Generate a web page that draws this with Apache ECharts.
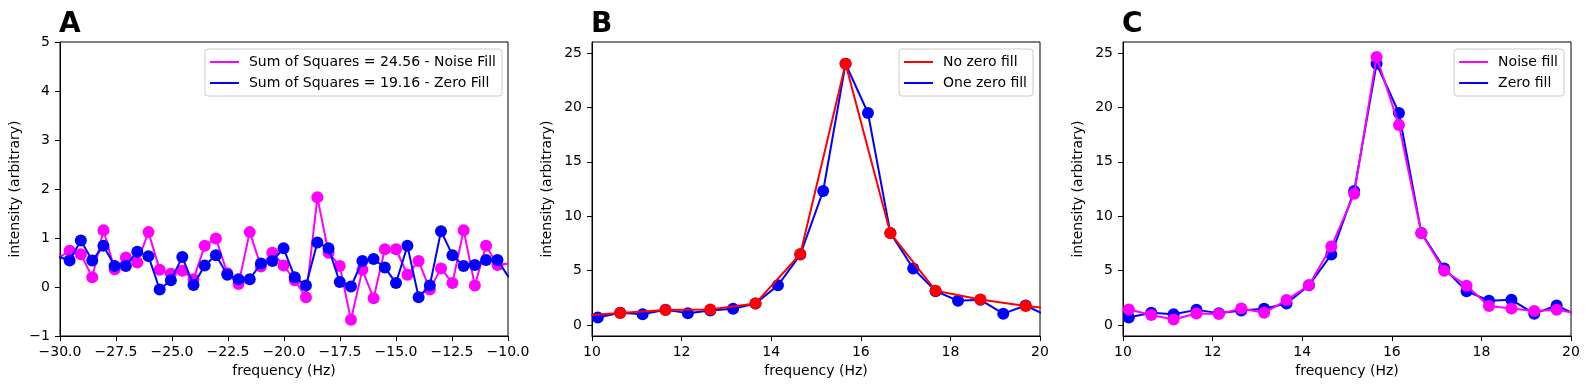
<!DOCTYPE html>
<html><head><meta charset="utf-8">
<script src="https://cdn.jsdelivr.net/npm/echarts@6/dist/echarts.min.js"></script>
<style>html,body{margin:0;padding:0;background:#fff}#c{width:1589px;height:389px}</style>
</head><body><div id="c"></div>
<script>
// ---------- Panel A data ----------
const freqA = [-30.07,-29.57,-29.07,-28.56,-28.06,-27.56,-27.06,-26.55,-26.05,-25.55,-25.05,-24.54,-24.04,-23.54,-23.04,-22.53,-22.03,-21.53,-21.03,-20.52,-20.02,-19.52,-19.02,-18.51,-18.01,-17.51,-17.01,-16.50,-16.00,-15.50,-15.00,-14.49,-13.99,-13.49,-12.99,-12.48,-11.98,-11.48,-10.98,-10.47,-9.97];
const noiseFillA = [0.59,0.74,0.67,0.20,1.16,0.36,0.60,0.50,1.12,0.35,0.27,0.33,0.16,0.84,0.99,0.28,0.06,1.12,0.42,0.70,0.44,0.14,-0.21,1.83,0.70,0.43,-0.67,0.35,-0.23,0.77,0.77,0.25,0.53,-0.05,0.38,0.08,1.16,0.03,0.84,0.45,0.48];
const zeroFillA = [0.62,0.54,0.95,0.54,0.84,0.43,0.43,0.72,0.63,-0.05,0.14,0.61,0.04,0.44,0.65,0.25,0.16,0.16,0.48,0.53,0.79,0.20,0.03,0.91,0.79,0.10,0.01,0.53,0.57,0.40,0.08,0.84,-0.21,0.03,1.14,0.65,0.43,0.45,0.55,0.55,0.20];
// ---------- Panels B / C data ----------
const freqBC = [10.13,10.63,11.13,11.64,12.14,12.64,13.15,13.65,14.15,14.65,15.16,15.66,16.16,16.66,17.17,17.67,18.17,18.67,19.18,19.68,20.18];
const zeroFill = [0.70,1.13,1.00,1.40,1.10,1.35,1.50,1.99,3.65,6.48,12.32,24.00,19.48,8.47,5.20,3.12,2.24,2.32,1.05,1.80,0.80];
const freqNoZero = [9.62,10.63,11.64,12.64,13.65,14.65,15.66,16.66,17.67,18.67,19.68,20.68];
const noZeroFill = [0.83,1.11,1.38,1.44,1.99,6.53,24.00,8.44,3.16,2.36,1.76,1.36];
const noiseFill = [1.44,0.92,0.52,1.07,1.01,1.53,1.13,2.30,3.65,7.21,12.06,24.63,18.37,8.44,5.00,3.62,1.75,1.53,1.30,1.40,1.04];
// ---------- text / ticks ----------
const panelTitles = ['A','B','C'];
const legendA = ['Sum of Squares = 24.56 - Noise Fill','Sum of Squares = 19.16 - Zero Fill'];
const legendB = ['No zero fill','One zero fill'];
const legendC = ['Noise fill','Zero fill'];
const xTicksA = [-30,-27.5,-25,-22.5,-20,-17.5,-15,-12.5,-10];
const yTicksA = [-1,0,1,2,3,4,5];
const xTicksBC = [10,12,14,16,18,20];
const yTicksBC = [0,5,10,15,20,25];
const xLabel = 'frequency (Hz)';
const yLabel = 'intensity (arbitrary)';

const MAG = '#ff00ff', BLUE = '#0000ff', RED = '#ff0000';
const FONT = 'DejaVu Sans';
const minus = s => String(s).replace('-', '\u2212');

const grids = [
  {left: 60, top: 42, width: 448, height: 294},
  {left: 592, top: 42, width: 448, height: 294},
  {left: 1123, top: 42, width: 448, height: 294}
].map(g => Object.assign(g, {show: true, borderColor: '#000', borderWidth: 1, backgroundColor: 'transparent'}));

function xAxis(gi, min, max, ticks, fmt) {
  return {
    type: 'value', gridIndex: gi, min, max,
    name: xLabel, nameLocation: 'middle', nameGap: 28,
    nameTextStyle: {fontFamily: FONT, fontSize: 14, color: '#000'},
    axisLine: {show: true, onZero: false, lineStyle: {color: '#000', width: 1}},
    axisTick: {show: true, length: 5, lineStyle: {color: '#000'}, customValues: ticks},
    axisLabel: {show: true, margin: 9, fontFamily: FONT, fontSize: 14, color: '#000', customValues: ticks, formatter: fmt},
    splitLine: {show: false}
  };
}
function yAxis(gi, min, max, ticks, fmt) {
  return {
    type: 'value', gridIndex: gi, min, max,
    name: yLabel, nameLocation: 'middle', nameGap: 38,
    nameTextStyle: {fontFamily: FONT, fontSize: 14, color: '#000'},
    axisLine: {show: true, onZero: false, lineStyle: {color: '#000', width: 1}},
    axisTick: {show: true, length: 5, lineStyle: {color: '#000'}, customValues: ticks},
    axisLabel: {show: true, margin: 10, fontFamily: FONT, fontSize: 14, color: '#000', customValues: ticks, formatter: fmt},
    splitLine: {show: false}
  };
}
function line(name, xs, ys, color, gi, z) {
  return {
    type: 'line', name, xAxisIndex: gi, yAxisIndex: gi, z,
    data: xs.map((x, i) => [x, ys[i]]),
    symbol: 'circle', symbolSize: 12, showSymbol: true, showAllSymbol: true,
    lineStyle: {color, width: 2}, itemStyle: {color, borderWidth: 0},
    clip: true, animation: false, emphasis: {disabled: true}, silent: true
  };
}
function legend(names, right) {
  return {
    data: names, orient: 'vertical', right, top: 49,
    icon: 'rect', itemWidth: 29, itemHeight: 2, itemGap: 5,
    padding: [5, 6, 5, 5],
    backgroundColor: 'rgba(255,255,255,0.8)', borderColor: '#cccccc', borderWidth: 1, borderRadius: 3,
    textStyle: {fontFamily: FONT, fontSize: 14, color: '#000', lineHeight: 16, padding: [0, 0, 0, 5]},
    selectedMode: false
  };
}

const chart = echarts.init(document.getElementById('c'), null, {renderer: 'canvas'});
chart.setOption({
  animation: false,
  backgroundColor: '#fff',
  title: panelTitles.map((t, i) => ({
    text: t, left: grids[i].left - 1, top: 11, padding: 0,
    textStyle: {fontFamily: FONT, fontSize: 28, fontWeight: 'bold', color: '#000', lineHeight: 28}
  })),
  legend: [legend(legendA, 1087), legend(legendB, 556), legend(legendC, 25)],
  grid: grids,
  xAxis: [
    xAxis(0, -30, -10, xTicksA, v => minus(v.toFixed(1))),
    xAxis(1, 10, 20, xTicksBC, v => String(v)),
    xAxis(2, 10, 20, xTicksBC, v => String(v))
  ],
  yAxis: [
    yAxis(0, -1, 5, yTicksA, v => minus(v)),
    yAxis(1, -1, 26, yTicksBC, v => String(v)),
    yAxis(2, -1, 26, yTicksBC, v => String(v))
  ],
  series: [
    line(legendA[0], freqA, noiseFillA, MAG, 0, 2),
    line(legendA[1], freqA, zeroFillA, BLUE, 0, 3),
    line(legendB[1], freqBC, zeroFill, BLUE, 1, 2),
    line(legendB[0], freqNoZero, noZeroFill, RED, 1, 3),
    line(legendC[1], freqBC, zeroFill, BLUE, 2, 2),
    line(legendC[0], freqBC, noiseFill, MAG, 2, 3)
  ]
});
</script></body></html>
